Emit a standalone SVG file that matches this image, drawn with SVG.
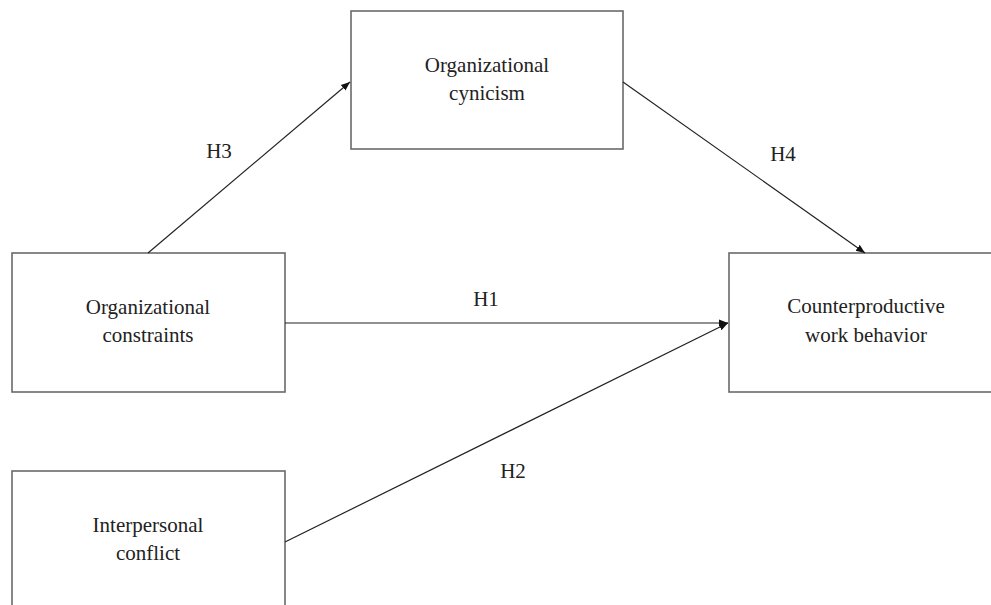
<svg xmlns="http://www.w3.org/2000/svg" width="991" height="605" viewBox="0 0 991 605">
<style>
.box{fill:#fff;stroke:#6a6a6a;stroke-width:1.6}
.t{font-family:"Liberation Serif","Times New Roman",serif;font-size:21px;fill:#222;text-anchor:middle}
.c{stroke:#222;stroke-width:1.2;fill:none;marker-end:url(#ah)}
</style>
<defs>
<marker id="ah" viewBox="0 0 10 10" refX="10" refY="5" markerWidth="9" markerHeight="9" markerUnits="userSpaceOnUse" orient="auto">
<path d="M0,1 L10,5 L0,9 Z" fill="#111"/>
</marker>
</defs>
<rect width="991" height="605" fill="#fff"/>
<g id="cynicism"><rect class="box" x="351" y="11" width="272" height="138"/>
<text class="t" x="487" y="72">Organizational</text><text class="t" x="487" y="100">cynicism</text></g>
<g id="constraints"><rect class="box" x="12" y="253" width="273" height="139"/>
<text class="t" x="148" y="314">Organizational</text><text class="t" x="148" y="342">constraints</text></g>
<g id="conflict"><rect class="box" x="12" y="471" width="273" height="150"/>
<text class="t" x="148" y="532">Interpersonal</text><text class="t" x="148" y="560">conflict</text></g>
<g id="cwb"><rect class="box" x="729" y="253" width="280" height="139"/>
<text class="t" x="866" y="313">Counterproductive</text><text class="t" x="866" y="342">work behavior</text></g>
<g id="connectors">
<line class="c" x1="148" y1="253" x2="350" y2="82"/>
<line class="c" x1="623" y1="82" x2="865" y2="253"/>
<line class="c" x1="285" y1="323" x2="728" y2="323"/>
<line class="c" x1="285" y1="542" x2="728" y2="323"/>
<text class="t" x="219" y="158">H3</text>
<text class="t" x="783" y="161">H4</text>
<text class="t" x="486" y="306">H1</text>
<text class="t" x="513" y="478">H2</text>
</g>
</svg>
